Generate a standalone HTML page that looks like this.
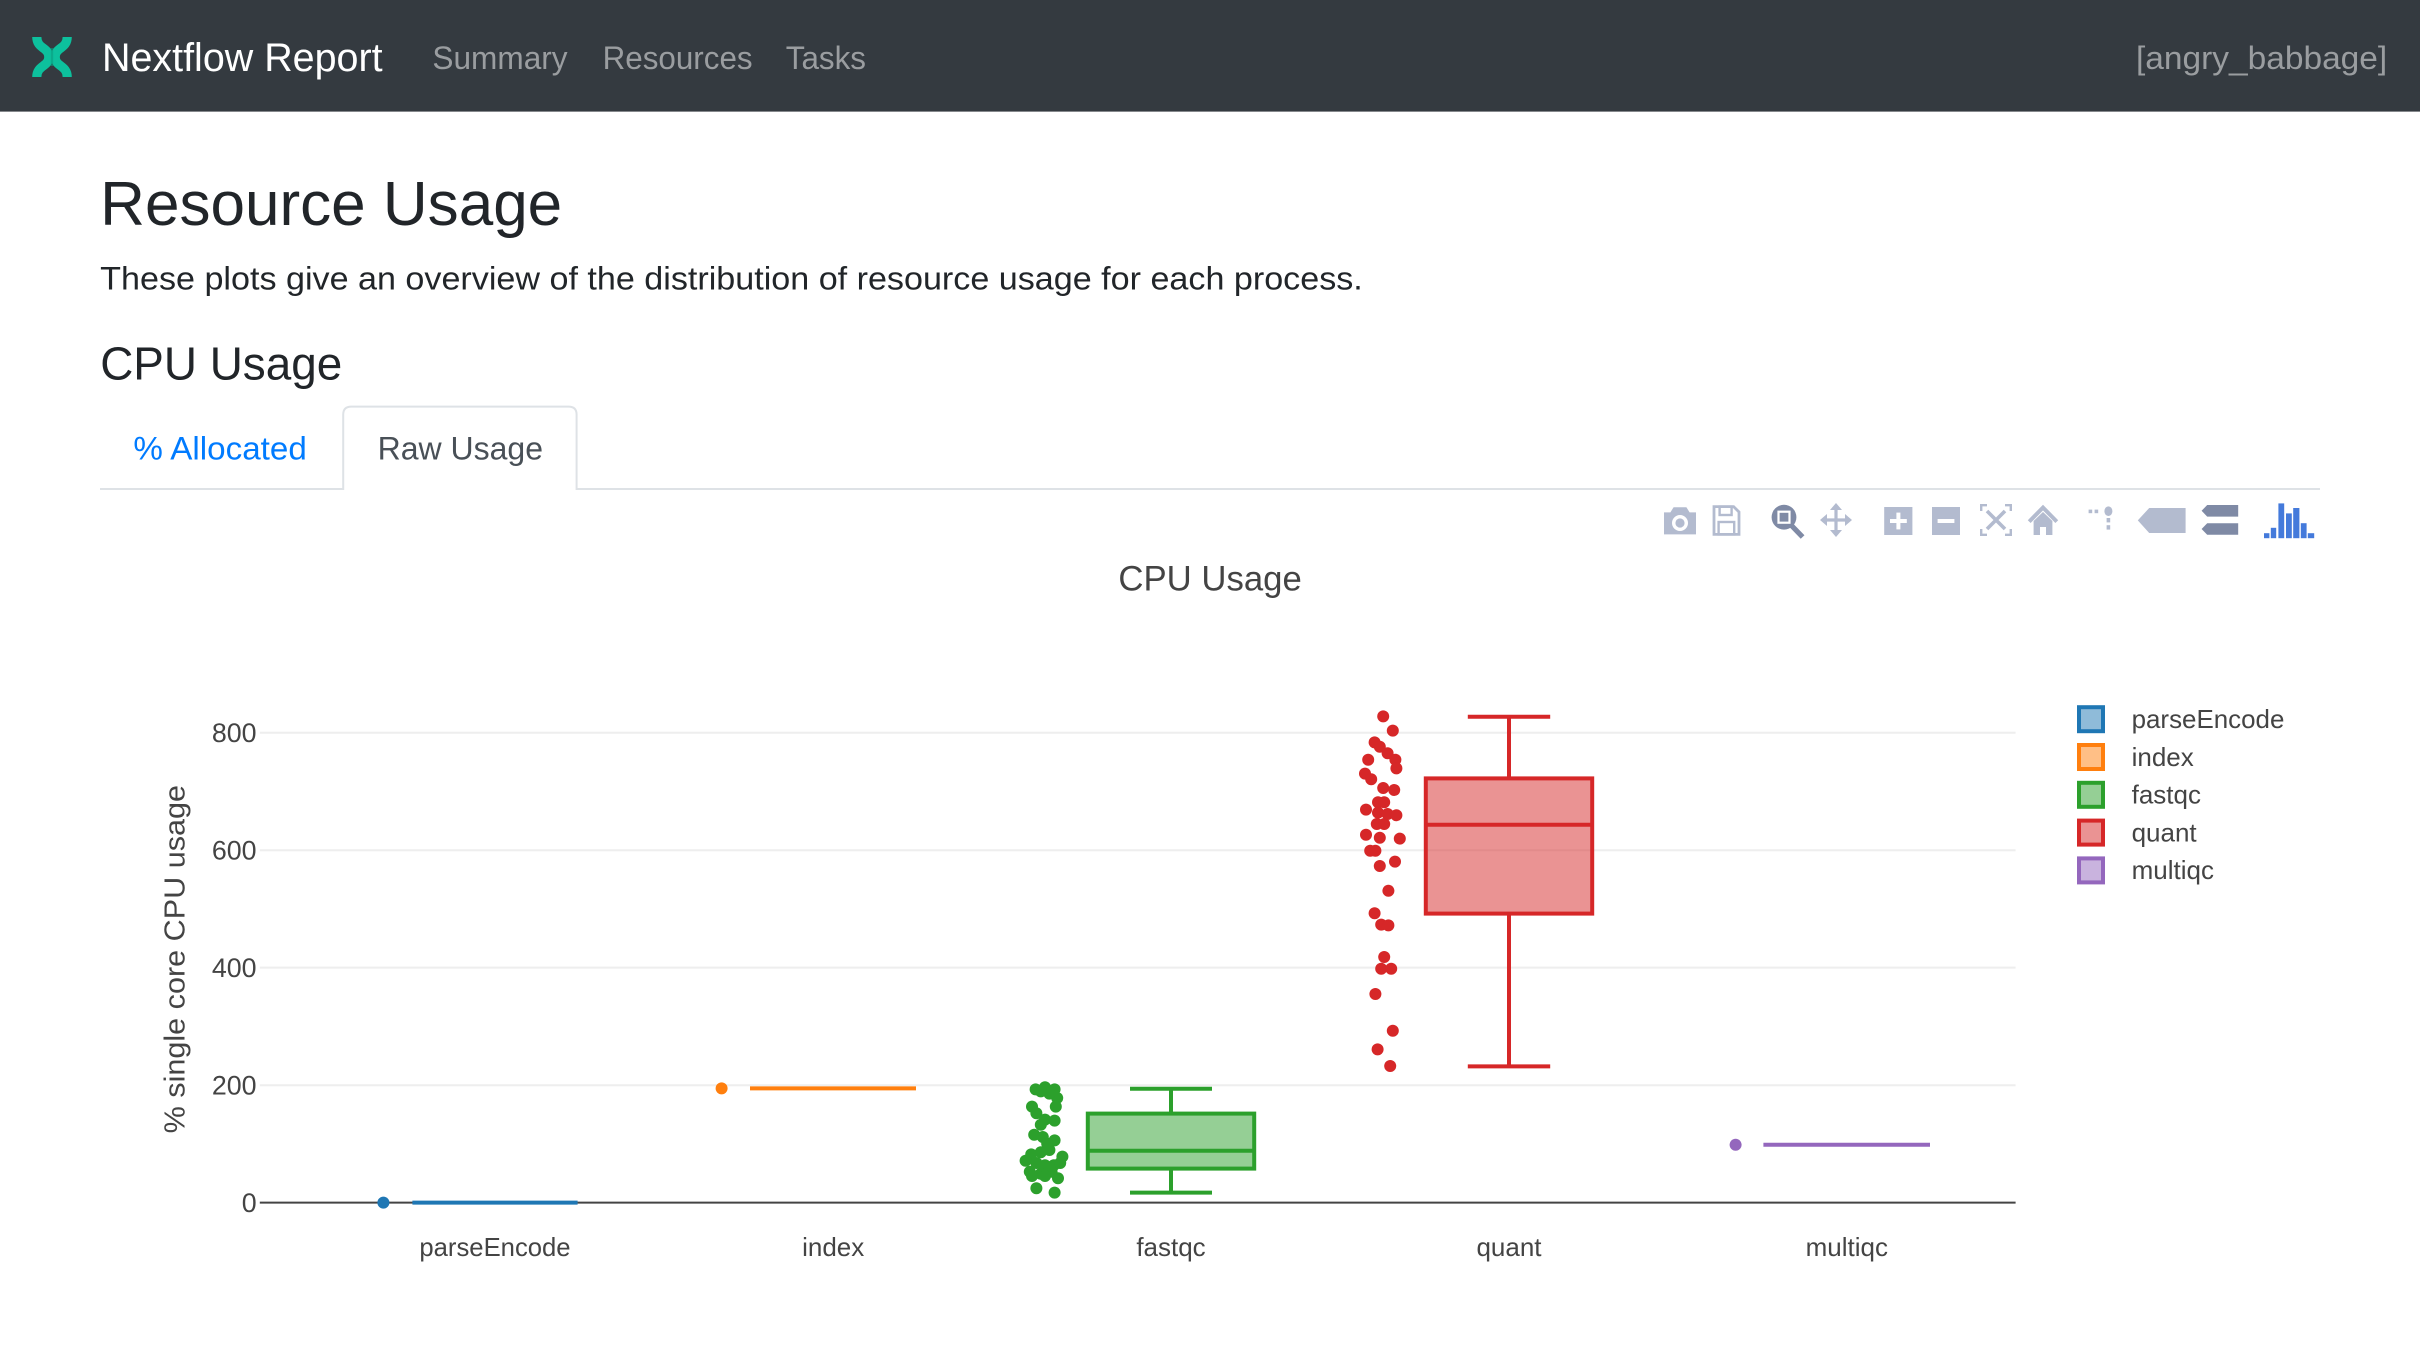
<!DOCTYPE html>
<html>
<head>
<meta charset="utf-8">
<style>
html,body{margin:0;padding:0;background:#fff;overflow:hidden;width:2420px;height:1352px}
svg{display:block}
</style>
</head>
<body>
<svg width="2420" height="1352" viewBox="0 0 1210 676" xmlns="http://www.w3.org/2000/svg" font-family="'Liberation Sans', Arial, sans-serif">
<rect x="0" y="0" width="1210" height="676" fill="#ffffff"/>

<!-- Navbar -->
<rect x="0" y="0" width="1210" height="55.8" fill="#343a40"/>
<g fill="none" stroke="#0dc09d" stroke-width="4.6" stroke-linecap="butt">
  <path d="M18.4,18.5 C18.4,24.5 24.4,23.5 24.4,28.5 C24.4,33.5 18.4,32.5 18.4,38.5"/>
  <path d="M33.6,18.5 C33.6,24.5 27.6,23.5 27.6,28.5 C27.6,33.5 33.6,32.5 33.6,38.5"/>
</g>
<line x1="26" y1="24" x2="26" y2="33" stroke="#0a9c80" stroke-width="1.2" opacity="0.6"/>
<text x="51" y="35.5" font-size="20" fill="#ffffff" textLength="140.3" lengthAdjust="spacingAndGlyphs">Nextflow Report</text>
<g font-size="16" fill="#9a9da0">
  <text x="216.2" y="34.5" textLength="67.6" lengthAdjust="spacingAndGlyphs">Summary</text>
  <text x="301.3" y="34.5" textLength="75" lengthAdjust="spacingAndGlyphs">Resources</text>
  <text x="392.9" y="34.5" textLength="40.1" lengthAdjust="spacingAndGlyphs">Tasks</text>
  <text x="1068" y="34.5" textLength="125.6" lengthAdjust="spacingAndGlyphs">[angry_babbage]</text>
</g>

<!-- Headings -->
<text x="50.1" y="112.5" font-size="31" fill="#212529" textLength="231" lengthAdjust="spacingAndGlyphs">Resource Usage</text>
<text x="50.1" y="144.7" font-size="16" fill="#212529" textLength="631.3" lengthAdjust="spacingAndGlyphs">These plots give an overview of the distribution of resource usage for each process.</text>
<text x="50.1" y="189.7" font-size="23" fill="#212529" textLength="121" lengthAdjust="spacingAndGlyphs">CPU Usage</text>

<!-- Tabs -->
<line x1="50" y1="244.5" x2="171.6" y2="244.5" stroke="#dee2e6" stroke-width="1"/>
<line x1="288.3" y1="244.5" x2="1160" y2="244.5" stroke="#dee2e6" stroke-width="1"/>
<path d="M171.6,245 V207.3 Q171.6,203.3 175.6,203.3 H284.3 Q288.3,203.3 288.3,207.3 V245" fill="#ffffff" stroke="#dee2e6" stroke-width="1"/>
<text x="66.7" y="229.7" font-size="16" fill="#007bff" textLength="86.7" lengthAdjust="spacingAndGlyphs">% Allocated</text>
<text x="188.8" y="229.7" font-size="16" fill="#495057" textLength="82.7" lengthAdjust="spacingAndGlyphs">Raw Usage</text>

<!-- Modebar -->
<g>
  <path fill="#b3bbcf" d="M832,256.2 h3.2 l1.6,-2.6 h6.4 l1.6,2.6 h3.2 v11 h-16z"/>
  <circle cx="840" cy="261.5" r="4" fill="#ffffff"/>
  <circle cx="840" cy="261.5" r="2.3" fill="#b3bbcf"/>
  <path fill="none" stroke="#b3bbcf" stroke-width="1.4" d="M857,253.3 h9.8 l2.7,2.7 v11.2 h-12.5z"/>
  <rect x="859.8" y="253.3" width="6" height="4.2" fill="none" stroke="#b3bbcf" stroke-width="1.2"/>
  <rect x="859.3" y="261" width="7.8" height="6.2" fill="none" stroke="#b3bbcf" stroke-width="1.2"/>
  <line x1="895.5" y1="262.5" x2="901.3" y2="268.5" stroke="#7f8aa5" stroke-width="2.6"/>
  <circle cx="892" cy="258.6" r="6.2" fill="#7f8aa5"/>
  <rect x="888.7" y="255.3" width="6.6" height="6.6" fill="#ffffff"/>
  <rect x="889.8" y="256.4" width="4.4" height="4.4" fill="#7f8aa5"/>
  <g stroke="#b3bbcf" stroke-width="1.6">
    <line x1="918" y1="253" x2="918" y2="267"/>
    <line x1="911" y1="260" x2="925" y2="260"/>
  </g>
  <g fill="#b3bbcf">
    <polygon points="918,251.5 915,255 921,255"/>
    <polygon points="918,268.5 915,265 921,265"/>
    <polygon points="910,260 913.5,257 913.5,263"/>
    <polygon points="926,260 922.5,257 922.5,263"/>
  </g>
  <rect x="942.1" y="253.5" width="14.1" height="14" fill="#b3bbcf"/>
  <rect x="948.2" y="256.3" width="2" height="8.4" fill="#ffffff"/>
  <rect x="945" y="259.5" width="8.4" height="2" fill="#ffffff"/>
  <rect x="966" y="253.5" width="14" height="14" fill="#b3bbcf"/>
  <rect x="968.8" y="259.5" width="8.4" height="2" fill="#ffffff"/>
  <g fill="none" stroke="#b3bbcf" stroke-width="1.2">
    <path d="M990.6,255.5 V252.6 H993.5"/>
    <path d="M1002.5,252.6 H1005.4 V255.5"/>
    <path d="M990.6,264.5 V267.4 H993.5"/>
    <path d="M1002.5,267.4 H1005.4 V264.5"/>
    <path d="M993.5,255.5 L1002.5,264.5 M1002.5,255.5 L993.5,264.5" stroke-width="1.8"/>
  </g>
  <path d="M1014.6,260.8 L1021.5,253.8 L1028.4,260.8" fill="none" stroke="#b3bbcf" stroke-width="2"/>
  <path d="M1016.8,260.5 L1021.5,256 L1026.2,260.5 V267.5 H1023 V263.5 H1020 V267.5 H1016.8Z" fill="#b3bbcf"/>
  <g fill="#b3bbcf">
    <rect x="1044.3" y="254.8" width="1.8" height="1.8"/>
    <rect x="1047.3" y="254.8" width="1.8" height="1.8"/>
    <ellipse cx="1054.2" cy="255.6" rx="2" ry="2.4"/>
    <rect x="1053.3" y="259" width="1.8" height="2.2"/>
    <rect x="1053.3" y="262.6" width="1.8" height="2.2"/>
  </g>
  <path d="M1068.9,260.2 L1074.6,254 H1092.8 V266.5 H1074.6Z" fill="#b3bbcf"/>
  <path d="M1100.8,255.4 L1103.6,252.5 H1119.1 V258.3 H1103.6Z" fill="#7f8aa5"/>
  <path d="M1100.8,264.5 L1103.6,261.6 H1119.1 V267.4 H1103.6Z" fill="#7f8aa5"/>
  <g fill="#447adb">
    <rect x="1132" y="266.6" width="2.7" height="2.5"/>
    <rect x="1135.4" y="263.9" width="2.7" height="5.2"/>
    <rect x="1139.2" y="251.7" width="2.9" height="17.4"/>
    <rect x="1143" y="256.7" width="2.9" height="12.4"/>
    <rect x="1146.6" y="254" width="3.1" height="15.1"/>
    <rect x="1150.4" y="261.6" width="2.9" height="7.5"/>
    <rect x="1153.9" y="266.6" width="3.2" height="2.5"/>
  </g>
</g>

<!-- Chart title -->
<text x="559.2" y="295.3" font-size="17.4" fill="#444444" textLength="91.7" lengthAdjust="spacingAndGlyphs">CPU Usage</text>

<!-- Grid -->
<g stroke="#eeeeee" stroke-width="1">
  <line x1="129.9" y1="366.4" x2="1007.8" y2="366.4"/>
  <line x1="129.9" y1="425.1" x2="1007.8" y2="425.1"/>
  <line x1="129.9" y1="483.8" x2="1007.8" y2="483.8"/>
  <line x1="129.9" y1="542.6" x2="1007.8" y2="542.6"/>
</g>
<line x1="129.9" y1="601.3" x2="1007.8" y2="601.3" stroke="#444444" stroke-width="1"/>

<!-- Y ticks -->
<g font-size="13.4" fill="#444444" text-anchor="end">
  <text x="128.3" y="371">800</text>
  <text x="128.3" y="429.7">600</text>
  <text x="128.3" y="488.4">400</text>
  <text x="128.3" y="547.2">200</text>
  <text x="128.3" y="605.9">0</text>
</g>
<text transform="translate(92.2,479.6) rotate(-90)" text-anchor="middle" font-size="14.2" fill="#444444" textLength="174.2" lengthAdjust="spacingAndGlyphs">% single core CPU usage</text>

<!-- X labels -->
<g font-size="13" fill="#444444" text-anchor="middle">
  <text x="247.5" y="628" textLength="75.6" lengthAdjust="spacingAndGlyphs">parseEncode</text>
  <text x="416.6" y="628">index</text>
  <text x="585.5" y="628">fastqc</text>
  <text x="754.5" y="628">quant</text>
  <text x="923.4" y="628">multiqc</text>
</g>

<!-- parseEncode -->
<line x1="206.2" y1="601.3" x2="288.8" y2="601.3" stroke="#1f77b4" stroke-width="2"/>
<circle cx="191.7" cy="601.3" r="3" fill="#1f77b4"/>

<!-- index -->
<line x1="375" y1="544.2" x2="458" y2="544.2" stroke="#ff7f0e" stroke-width="2"/>
<circle cx="360.8" cy="544.2" r="3" fill="#ff7f0e"/>

<!-- fastqc -->
<g stroke="#2ca02c" stroke-width="2" fill="none">
  <line x1="585.5" y1="544.4" x2="585.5" y2="556.8"/>
  <line x1="585.5" y1="584.3" x2="585.5" y2="596.3"/>
  <line x1="565" y1="544.4" x2="606" y2="544.4"/>
  <line x1="565" y1="596.3" x2="606" y2="596.3"/>
  <rect x="543.9" y="556.8" width="83.2" height="27.5" fill="rgba(44,160,44,0.5)"/>
  <line x1="543.9" y1="575.4" x2="627.1" y2="575.4"/>
</g>
<g fill="#2ca02c">
  <circle cx="517.8" cy="544.7" r="3"/><circle cx="522.5" cy="543.6" r="3"/><circle cx="527.3" cy="544.7" r="3"/>
  <circle cx="528.6" cy="549" r="3"/><circle cx="524.7" cy="546.8" r="3"/><circle cx="520.4" cy="545.7" r="3"/>
  <circle cx="516" cy="553.3" r="3"/><circle cx="527.9" cy="553.3" r="3"/><circle cx="518.2" cy="556.6" r="3"/>
  <circle cx="522.5" cy="559.8" r="3"/><circle cx="527.3" cy="560.3" r="3"/><circle cx="520.4" cy="562.4" r="3"/>
  <circle cx="517.1" cy="567.4" r="3"/><circle cx="521.4" cy="568.5" r="3"/><circle cx="527.3" cy="570.2" r="3"/>
  <circle cx="523.6" cy="571.8" r="3"/><circle cx="515.6" cy="577.2" r="3"/><circle cx="520.4" cy="576.1" r="3"/>
  <circle cx="524.7" cy="575" r="3"/><circle cx="531.2" cy="578.3" r="3"/><circle cx="512.8" cy="580.4" r="3"/>
  <circle cx="518.2" cy="581.5" r="3"/><circle cx="522.5" cy="582.6" r="3"/><circle cx="526.9" cy="582.6" r="3"/>
  <circle cx="530.1" cy="581.5" r="3"/><circle cx="514.9" cy="585.9" r="3"/><circle cx="520.4" cy="586.9" r="3"/>
  <circle cx="525.8" cy="585.9" r="3"/><circle cx="516" cy="588" r="3"/><circle cx="522.5" cy="588" r="3"/>
  <circle cx="529" cy="589.1" r="3"/><circle cx="518.2" cy="594.1" r="3"/><circle cx="527.3" cy="596.3" r="3"/>
</g>

<!-- quant -->
<g stroke="#d62728" stroke-width="2" fill="none">
  <line x1="754.5" y1="358.4" x2="754.5" y2="389.2"/>
  <line x1="754.5" y1="456.8" x2="754.5" y2="533.2"/>
  <line x1="733.9" y1="358.4" x2="775.1" y2="358.4"/>
  <line x1="733.9" y1="533.2" x2="775.1" y2="533.2"/>
  <rect x="712.9" y="389.2" width="83.2" height="67.6" fill="rgba(214,39,40,0.5)"/>
  <line x1="712.9" y1="412.4" x2="796.1" y2="412.4"/>
</g>
<g fill="#d62728">
  <circle cx="691.6" cy="358.2" r="3"/><circle cx="696.4" cy="365.3" r="3"/><circle cx="687.3" cy="371.2" r="3"/>
  <circle cx="689.9" cy="373.4" r="3"/><circle cx="693.8" cy="376.6" r="3"/><circle cx="697.7" cy="379.9" r="3"/>
  <circle cx="684.1" cy="379.9" r="3"/><circle cx="698.2" cy="384.2" r="3"/><circle cx="682.5" cy="386.8" r="3"/>
  <circle cx="685.6" cy="389.6" r="3"/><circle cx="691.6" cy="394" r="3"/><circle cx="697.1" cy="395" r="3"/>
  <circle cx="689" cy="401.1" r="3"/><circle cx="692.1" cy="401.1" r="3"/><circle cx="683" cy="404.8" r="3"/>
  <circle cx="689" cy="406.3" r="3"/><circle cx="693.8" cy="407" r="3"/><circle cx="698.2" cy="407.6" r="3"/>
  <circle cx="688.4" cy="412" r="3"/><circle cx="692.1" cy="412" r="3"/><circle cx="683" cy="417.4" r="3"/>
  <circle cx="689.9" cy="418.9" r="3"/><circle cx="699.9" cy="419.3" r="3"/><circle cx="685.1" cy="425.4" r="3"/>
  <circle cx="687.7" cy="425.4" r="3"/><circle cx="697.5" cy="430.8" r="3"/><circle cx="689.9" cy="433" r="3"/>
  <circle cx="694.2" cy="445.4" r="3"/><circle cx="687.3" cy="456.6" r="3"/><circle cx="690.6" cy="462.3" r="3"/>
  <circle cx="694.2" cy="462.7" r="3"/><circle cx="692.1" cy="478.5" r="3"/><circle cx="690.6" cy="484.4" r="3"/>
  <circle cx="695.6" cy="484.4" r="3"/><circle cx="687.7" cy="497" r="3"/><circle cx="696.4" cy="515.4" r="3"/>
  <circle cx="688.8" cy="524.7" r="3"/><circle cx="695.1" cy="533" r="3"/>
</g>

<!-- multiqc -->
<line x1="881.7" y1="572.4" x2="965" y2="572.4" stroke="#9467bd" stroke-width="2"/>
<circle cx="867.8" cy="572.4" r="3" fill="#9467bd"/>

<!-- Legend -->
<g stroke-width="2">
  <rect x="1039.5" y="353.6" width="12" height="12" fill="rgba(31,119,180,0.5)" stroke="#1f77b4"/>
  <rect x="1039.5" y="372.5" width="12" height="12" fill="rgba(255,127,14,0.5)" stroke="#ff7f0e"/>
  <rect x="1039.5" y="391.4" width="12" height="12" fill="rgba(44,160,44,0.5)" stroke="#2ca02c"/>
  <rect x="1039.5" y="410.3" width="12" height="12" fill="rgba(214,39,40,0.5)" stroke="#d62728"/>
  <rect x="1039.5" y="429.2" width="12" height="12" fill="rgba(148,103,189,0.5)" stroke="#9467bd"/>
</g>
<g font-size="13" fill="#444444">
  <text x="1065.8" y="364" textLength="76.4" lengthAdjust="spacingAndGlyphs">parseEncode</text>
  <text x="1065.8" y="382.9">index</text>
  <text x="1065.8" y="401.8">fastqc</text>
  <text x="1065.8" y="420.7">quant</text>
  <text x="1065.8" y="439.6">multiqc</text>
</g>
</svg>
</body>
</html>
